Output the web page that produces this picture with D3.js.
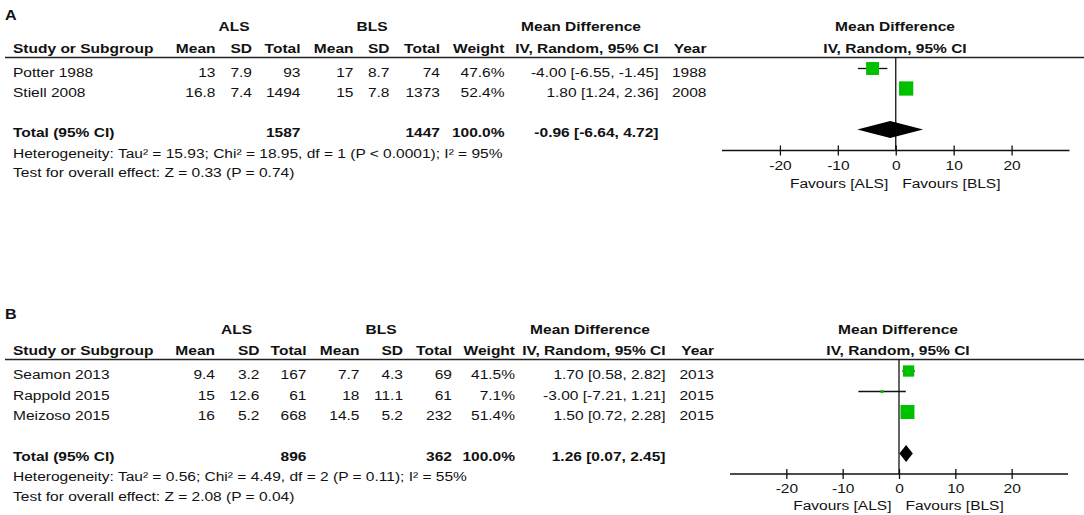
<!DOCTYPE html>
<html><head><meta charset="utf-8">
<script src="https://cdn.jsdelivr.net/npm/d3@7"></script>
<style>
html,body{margin:0;padding:0;background:#fff;}
svg{display:block;}
text{font-family:"Liberation Sans",Arial,sans-serif;font-size:13.5px;fill:#111;}
</style></head>
<body><svg id="c" width="1084" height="515"></svg>
<script>
// ---------- DATA ----------
// Panel A
const studiesA   = ["Potter 1988", "Stiell 2008"];
const alsMeanA   = ["13", "16.8"];
const alsSdA     = ["7.9", "7.4"];
const alsTotalA  = [93, 1494];
const blsMeanA   = ["17", "15"];
const blsSdA     = ["8.7", "7.8"];
const blsTotalA  = [74, 1373];
const weightA    = [47.6, 52.4];
const mdA        = [-4.00, 1.80];
const loA        = [-6.55, 1.24];
const hiA        = [-1.45, 2.36];
const yearA      = [1988, 2008];
const totalA     = {als: 1587, bls: 1447, weight: 100.0, md: -0.96, lo: -6.64, hi: 4.72};
const hetA       = "Heterogeneity: Tau\u00b2 = 15.93; Chi\u00b2 = 18.95, df = 1 (P < 0.0001); I\u00b2 = 95%";
const testA      = "Test for overall effect: Z = 0.33 (P = 0.74)";

// Panel B
const studiesB   = ["Seamon 2013", "Rappold 2015", "Meizoso 2015"];
const alsMeanB   = ["9.4", "15", "16"];
const alsSdB     = ["3.2", "12.6", "5.2"];
const alsTotalB  = [167, 61, 668];
const blsMeanB   = ["7.7", "18", "14.5"];
const blsSdB     = ["4.3", "11.1", "5.2"];
const blsTotalB  = [69, 61, 232];
const weightB    = [41.5, 7.1, 51.4];
const mdB        = [1.70, -3.00, 1.50];
const loB        = [0.58, -7.21, 0.72];
const hiB        = [2.82, 1.21, 2.28];
const yearB      = [2013, 2015, 2015];
const totalB     = {als: 896, bls: 362, weight: 100.0, md: 1.26, lo: 0.07, hi: 2.45};
const hetB       = "Heterogeneity: Tau\u00b2 = 0.56; Chi\u00b2 = 4.49, df = 2 (P = 0.11); I\u00b2 = 55%";
const testB      = "Test for overall effect: Z = 2.08 (P = 0.04)";

const tickVals   = [-20, -10, 0, 10, 20];
const axisDomain = [-30, 30];
const favLeft    = "Favours [ALS]";
const favRight   = "Favours [BLS]";

// ---------- DRAWING ----------
const SX = 1.15;
const svg = d3.select("#c");
const f2 = d3.format(".2f");
const fmtN = v => (v < 0 ? "-" : "") + f2(Math.abs(v));
const ciStr = (m, l, h) => `${fmtN(m)} [${fmtN(l)}, ${fmtN(h)}]`;
const GREEN = "#00c000";
const sizeScale = d3.scaleLinear().domain([0, 100]).range([0, 27.2]);

function txt(g, x, y, s, anchor, bold) {
  return g.append("text")
    .attr("transform", `translate(${x},${y}) scale(${SX},1)`)
    .attr("text-anchor", anchor || "start")
    .attr("font-weight", bold ? "bold" : null)
    .text(s);
}

function panel(cfg, d) {
  const g = svg.append("g");
  const c = cfg.cols;
  // panel letter
  txt(g, 5, cfg.letterY, cfg.letter, "start", true).style("font-size", "14px");
  // header row 1
  txt(g, cfg.alsC, cfg.h1, "ALS", "middle", true);
  txt(g, cfg.blsC, cfg.h1, "BLS", "middle", true);
  txt(g, cfg.mdC, cfg.h1, "Mean Difference", "middle", true);
  // header row 2
  txt(g, cfg.studyX, cfg.h2, "Study or Subgroup", "start", true);
  const heads = ["Mean", "SD", "Total", "Mean", "SD", "Total", "Weight", "IV, Random, 95% CI", "Year"];
  heads.forEach((h, i) => txt(g, c[i], cfg.h2, h, "end", true));
  // right headers
  txt(g, cfg.plotC, cfg.h1, "Mean Difference", "middle", true);
  txt(g, cfg.plotC, cfg.h2, "IV, Random, 95% CI", "middle", true);
  // header rule
  g.append("line").attr("x1", 5).attr("x2", 1084).attr("y1", cfg.lineY).attr("y2", cfg.lineY)
    .attr("stroke", "#222").attr("stroke-width", 1.4);

  // study rows
  d.studies.forEach((s, i) => {
    const y = cfg.rows[i];
    txt(g, cfg.studyX, y, s);
    const vals = [d.alsMean[i], d.alsSd[i], d.alsTotal[i], d.blsMean[i], d.blsSd[i], d.blsTotal[i],
      d.weight[i].toFixed(1) + "%", ciStr(d.md[i], d.lo[i], d.hi[i]), d.year[i]];
    vals.forEach((v, j) => txt(g, c[j], y, String(v), "end"));
  });
  // total row
  const t = d.total;
  txt(g, cfg.studyX, cfg.totalY, "Total (95% CI)", "start", true);
  txt(g, c[2], cfg.totalY, String(t.als), "end", true);
  txt(g, c[5], cfg.totalY, String(t.bls), "end", true);
  txt(g, c[6], cfg.totalY, t.weight.toFixed(1) + "%", "end", true);
  txt(g, c[7], cfg.totalY, ciStr(t.md, t.lo, t.hi), "end", true);
  txt(g, cfg.studyX, cfg.hetY, d.het);
  txt(g, cfg.studyX, cfg.testY, d.test);

  // forest plot
  const x = d3.scaleLinear().domain(axisDomain).range(cfg.range);
  // zero line
  g.append("line").attr("x1", x(0)).attr("x2", x(0)).attr("y1", cfg.lineY).attr("y2", cfg.axisY)
    .attr("stroke", "#111").attr("stroke-width", 1.3);
  // CI lines and squares
  d.studies.forEach((s, i) => {
    const cy = cfg.rows[i] - 8;
    g.append("line").attr("x1", x(d.lo[i])).attr("x2", x(d.hi[i])).attr("y1", cy).attr("y2", cy)
      .attr("stroke", "#111").attr("stroke-width", 1.3);
    const sz = Math.max(3, sizeScale(d.weight[i]));
    g.append("rect").attr("x", x(d.md[i]) - sz / 2).attr("y", cy - sz / 2)
      .attr("width", sz).attr("height", sz).attr("fill", GREEN);
  });
  // diamond
  const dy = cfg.totalY - 7, hh = 8.5;
  g.append("polygon")
    .attr("points", [[x(t.lo), dy], [x(t.md), dy - hh], [x(t.hi), dy], [x(t.md), dy + hh]].map(p => p.join(",")).join(" "))
    .attr("fill", "#000");
  // axis
  const axis = d3.axisBottom(x).tickValues(tickVals).tickSizeInner(10).tickSizeOuter(0)
    .tickPadding(4.5).tickFormat(v => String(v));
  const ag = g.append("g").attr("transform", `translate(0,${cfg.axisY - 5})`).call(axis);
  ag.select(".domain").remove();
  ag.selectAll(".tick line").attr("stroke", "#111").attr("stroke-width", 1.3);
  ag.selectAll(".tick text").attr("transform", `scale(${SX},1)`)
    .style("font-size", "13.5px").style("font-family", '"Liberation Sans",Arial,sans-serif').attr("fill", "#111");
  g.append("line").attr("x1", cfg.range[0]).attr("x2", cfg.range[1]).attr("y1", cfg.axisY).attr("y2", cfg.axisY)
    .attr("stroke", "#111").attr("stroke-width", 1.4);
  // favours labels
  txt(g, x(0) - 7.5, cfg.favY, favLeft, "end");
  txt(g, x(0) + 6.5, cfg.favY, favRight, "start");
}

panel({
  letter: "A", letterY: 20, h1: 31, h2: 52.5, lineY: 57.5, studyX: 13,
  alsC: 234, blsC: 372, mdC: 581, plotC: 895,
  cols: [215.5, 252, 300.5, 353.5, 389.5, 440, 504.5, 658.5, 706.5],
  rows: [76.5, 96.5], totalY: 136.5, hetY: 158, testY: 177,
  range: [722, 1069.5], axisY: 150.5, favY: 188
}, {
  studies: studiesA, alsMean: alsMeanA, alsSd: alsSdA, alsTotal: alsTotalA,
  blsMean: blsMeanA, blsSd: blsSdA, blsTotal: blsTotalA, weight: weightA,
  md: mdA, lo: loA, hi: hiA, year: yearA, total: totalA, het: hetA, test: testA
});

panel({
  letter: "B", letterY: 319, h1: 334, h2: 355, lineY: 359.5, studyX: 13,
  alsC: 236.5, blsC: 381, mdC: 590, plotC: 898,
  cols: [215, 259.5, 306.5, 359.5, 403, 452, 515, 665.5, 714],
  rows: [379, 399.5, 420], totalY: 460.5, hetY: 481, testY: 501,
  range: [730, 1068], axisY: 474, favY: 509.5
}, {
  studies: studiesB, alsMean: alsMeanB, alsSd: alsSdB, alsTotal: alsTotalB,
  blsMean: blsMeanB, blsSd: blsSdB, blsTotal: blsTotalB, weight: weightB,
  md: mdB, lo: loB, hi: hiB, year: yearB, total: totalB, het: hetB, test: testB
});
</script></body></html>
